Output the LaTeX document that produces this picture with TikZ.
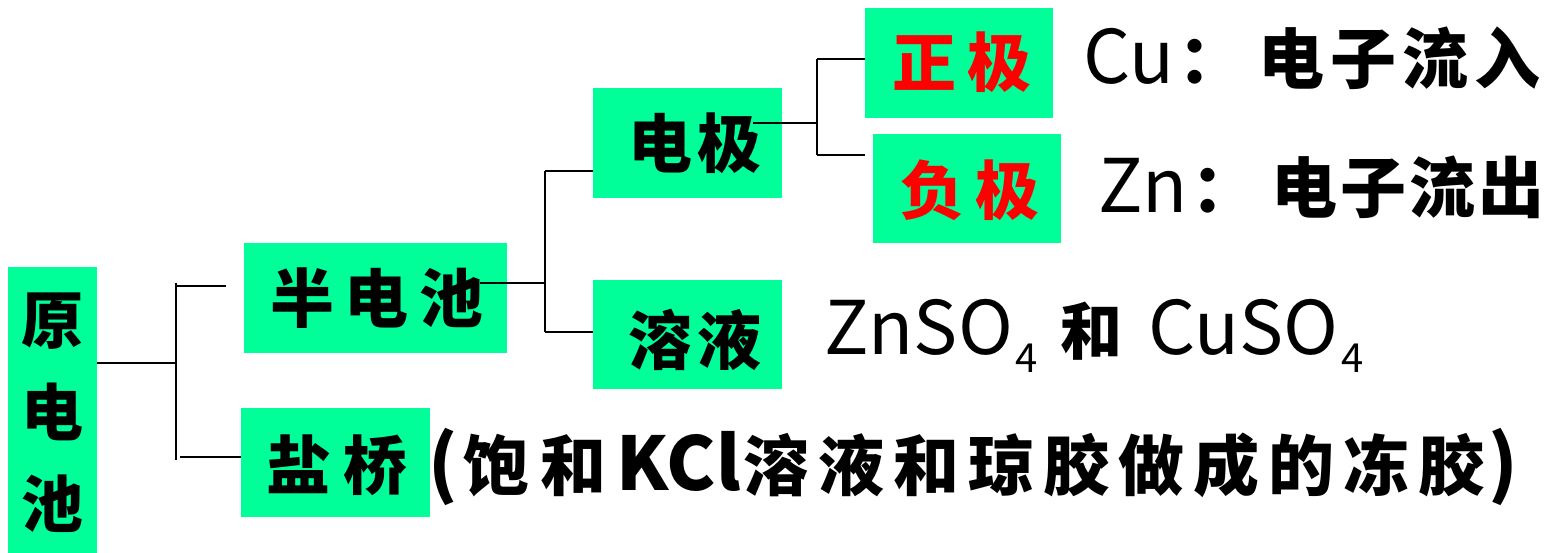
\documentclass[tikz,border=0pt]{standalone}
\usepackage{fontspec}
\newfontfamily\cjk{Noto Sans CJK SC}
\definecolor{boxgreen}{RGB}{0,255,153}
\definecolor{txtred}{RGB}{255,0,0}
\newcommand\gp[1]{\hspace{#1pt}}
\begin{document}
\begin{tikzpicture}[x=1pt,y=-1pt,
  gbox/.style={fill=boxgreen, draw=none, inner sep=0pt, anchor=north west},
  conn/.style={line width=2.2pt, black},
  cn/.style={inner sep=0pt, font=\cjk\bfseries\fontsize{#1}{#1}\selectfont},
  lat/.style={inner sep=0pt, font=\cjk\fontsize{#1}{#1}\selectfont}]
\useasboundingbox[fill=white] (0,0) rectangle (1548,553);
% boxes
\node[gbox, minimum width=89pt,  minimum height=286pt] (yuan)   at (8,267) {};
\node[gbox, minimum width=263pt, minimum height=110pt] (ban)    at (244,243) {};
\node[gbox, minimum width=189pt, minimum height=109pt] (yan)    at (241,408) {};
\node[gbox, minimum width=189pt, minimum height=110pt] (dianji) at (593,88) {};
\node[gbox, minimum width=189pt, minimum height=109pt] (rongye) at (593,280) {};
\node[gbox, minimum width=188pt, minimum height=110pt] (zheng)  at (865,8) {};
\node[gbox, minimum width=188pt, minimum height=109pt] (fu)     at (873,134) {};
% box texts
\node[cn=62, align=center, font=\cjk\bfseries\fontsize{62}{92}\selectfont] (tyuan) at (52,413) {原\\电\\池};
\node[cn=64] (tban) at (377,298) {半\gp{11}电\gp{11}池};
\node[cn=64] (tyan) at (337,465) {盐\gp{14}桥};
\node[cn=64] (tdj) at (695,143) {电\gp{6}极};
\node[cn=64] (try) at (695,340) {溶\gp{6}液};
\node[cn=64, text=txtred] (tzj) at (962,62) {正\gp{12}极};
\node[cn=64, text=txtred] (tfj) at (970,190) {负\gp{12}极};
% free texts
\node[lat=74, anchor=base west] (cu) at (1083,84)
  {Cu\gp{4}{\bfseries\fontsize{66}{66}\selectfont ：\gp{14}电\gp{6}子\gp{6}流\gp{6}入}};
\node[lat=74, anchor=base west] (zn) at (1098,213)
  {Zn\gp{4}{\bfseries\fontsize{66}{66}\selectfont ：\gp{14}电\gp{3}子\gp{3}流\gp{3}出}};
\node[lat=74, anchor=base west] (sol) at (824,355)
  {ZnSO\gp{3}\raisebox{-18pt}{\fontsize{40}{40}\selectfont 4}\gp{22}{\bfseries\fontsize{62}{62}\selectfont 和}\gp{26}CuSO\gp{3}\raisebox{-18pt}{\fontsize{40}{40}\selectfont 4}};
\node[cn=66, anchor=west] (bridge) at (428,467)
  {{\fontsize{74}{74}\selectfont (}\gp{6}饱\gp{11}和\gp{10}{\fontsize{74}{74}\selectfont KCl}\gp{3}溶\gp{9}液\gp{9}和\gp{9}琼\gp{9}胶\gp{9}做\gp{9}成\gp{9}的\gp{9}冻\gp{9}胶\gp{4}{\fontsize{74}{74}\selectfont )}};
% connectors
\coordinate (a)  at (176,363);
\coordinate (a1) at (176,283);
\coordinate (a2) at (176,460);
\coordinate (b1) at (177,286);
\coordinate (bend) at (226,286);
\coordinate (b2) at (180,457);
\draw[conn] (yuan.east |- a) -- (a);
\draw[conn] (a1) -- (a2);
\draw[conn] (b1) -- (bend);
\draw[conn] (b2) -- (yan.west |- b2);
\coordinate (c0) at (480,283);
\coordinate (c)  at (545,283);
\coordinate (c1) at (545,171);
\coordinate (c2) at (545,332);
\draw[conn] (c0) -- (c);
\draw[conn] (c1) -- (dianji.west |- c1);
\draw[conn] (c2) -- (rongye.west |- c2);
\draw[conn] (c1) -- (c2);
\coordinate (d0) at (753,123);
\coordinate (d)  at (817,123);
\coordinate (d1) at (817,59);
\coordinate (d2) at (817,155);
\coordinate (dend) at (865,155);
\draw[conn] (d0) -- (d);
\draw[conn] (d1) -- (d2);
\draw[conn] (d1) -- (zheng.west |- d1);
\draw[conn] (d2) -- (dend);
\end{tikzpicture}
\end{document}
